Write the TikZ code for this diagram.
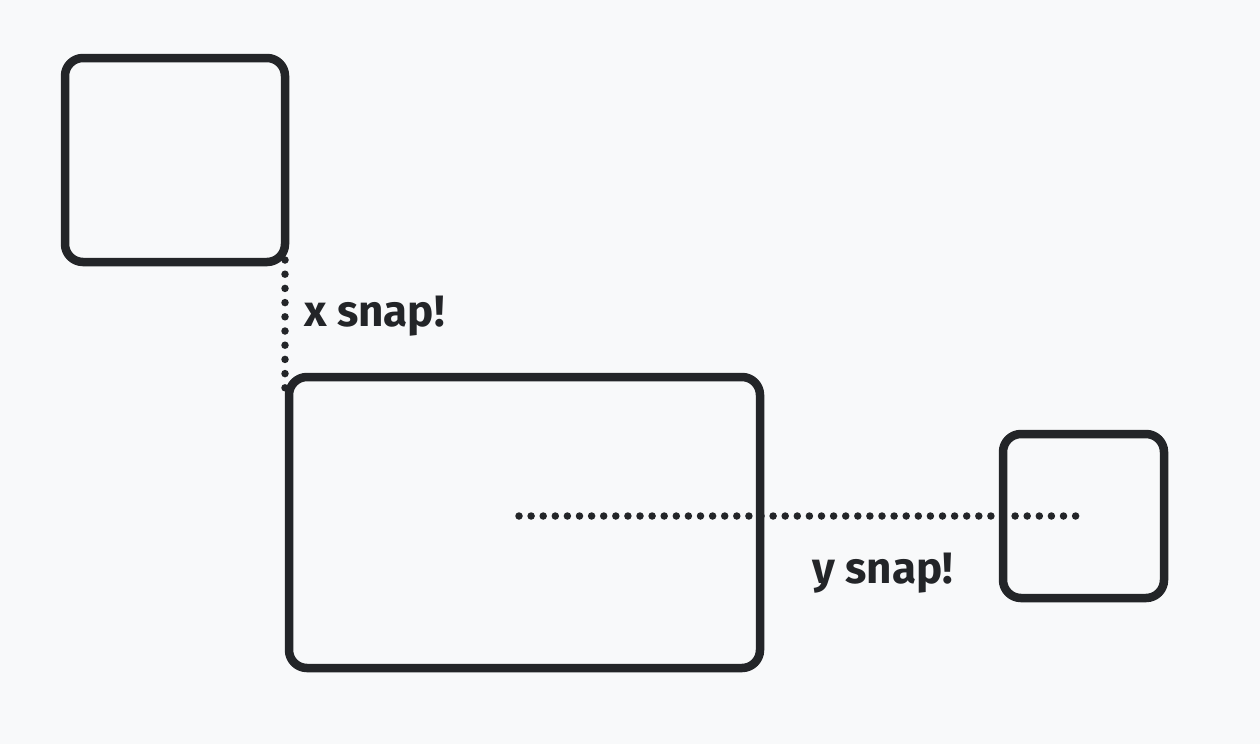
\documentclass[tikz,border=0pt]{standalone}
\usepackage{fontspec}
\setmainfont{Fira Sans}
\definecolor{bg}{HTML}{F8F9FA}
\definecolor{ink}{HTML}{232528}
\tikzset{
  box/.style={draw=ink, line width=8.5pt, rounded corners=18pt},
  dotline/.style={draw=ink, line width=7.5pt, line cap=round, dash pattern=on 0pt off 14.2pt},
  dotlineh/.style={draw=ink, line width=7.5pt, line cap=round, dash pattern=on 0pt off 12.1pt},
  lbl/.style={text=ink, font=\fontsize{44}{48}\selectfont\bfseries, inner sep=0pt, anchor=base west}
}
\begin{document}
\begin{tikzpicture}[x=1pt,y=-1pt]
\fill[bg] (0,0) rectangle (1260,744);
\useasboundingbox (0,0) rectangle (1260,744);
\draw[box] (65,58) rectangle (285,262);
\draw[box] (289,377) rectangle (760,668);
\draw[box] (1003,434) rectangle (1164,598);
\coordinate (v1) at (285,260);
\coordinate (v2) at (285,388);
\draw[dotline] (v1) -- (v2);
\coordinate (h1) at (519,516);
\coordinate (h2) at (1085,516);
\draw[dotlineh] (h1) -- (h2);
\node[lbl] (xs) at (304,326) {x snap!};
\node[lbl] (ys) at (812,583) {y snap!};
\end{tikzpicture}
\end{document}
